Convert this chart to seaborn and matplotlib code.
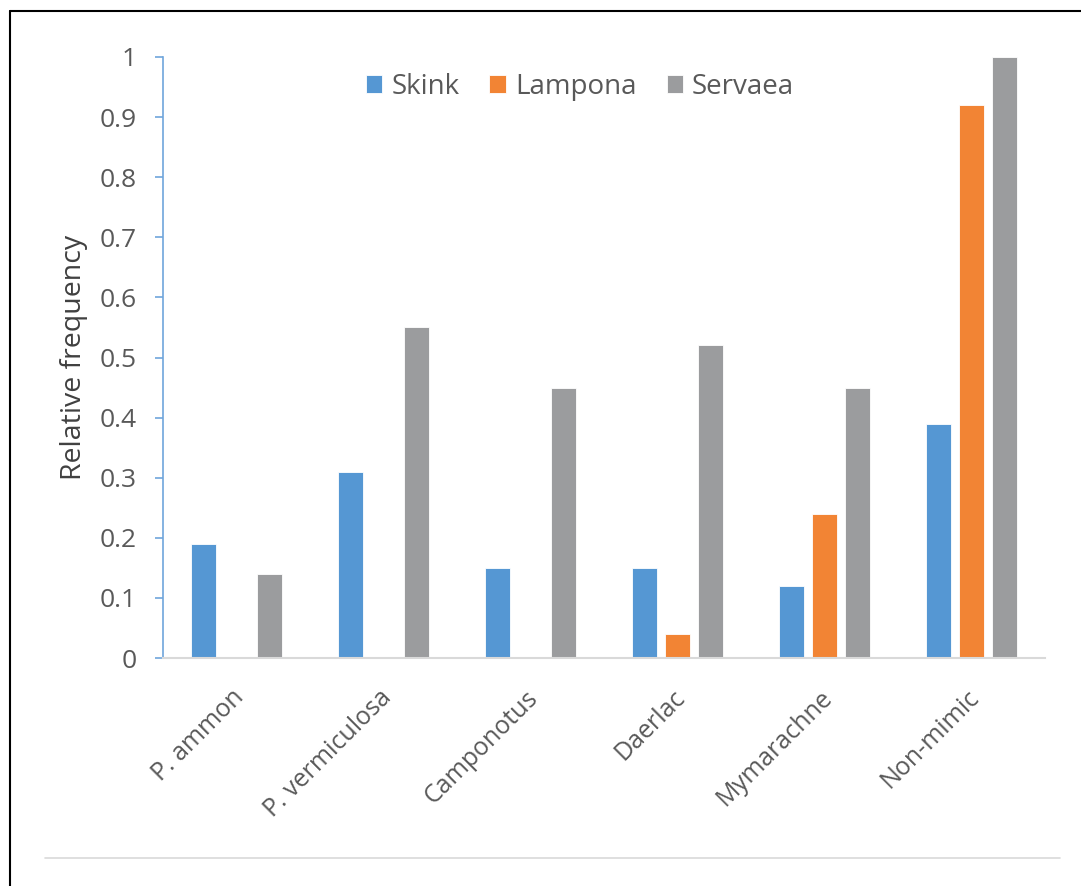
import matplotlib
matplotlib.use("Agg")
import matplotlib.pyplot as plt
from matplotlib.lines import Line2D
from matplotlib.transforms import ScaledTranslation
import seaborn as sns
import pandas as pd

categories = ["P. ammon", "P. vermiculosa", "Camponotus", "Daerlac", "Mymarachne", "Non-mimic"]
series = ["Skink", "Lampona", "Servaea"]
skink = [0.19, 0.31, 0.15, 0.15, 0.12, 0.39]
lampona = [0.0, 0.0, 0.0, 0.04, 0.24, 0.92]
servaea = [0.14, 0.55, 0.45, 0.52, 0.45, 1.0]
y_ticks = [0, 0.1, 0.2, 0.3, 0.4, 0.5, 0.6, 0.7, 0.8, 0.9, 1]
y_tick_labels = ["0", "0.1", "0.2", "0.3", "0.4", "0.5", "0.6", "0.7", "0.8", "0.9", "1"]

colors = {"Skink": "#5597D3", "Lampona": "#F28434", "Servaea": "#9B9C9E"}

df = pd.DataFrame({
    "category": categories * 3,
    "series": [s for s in series for _ in categories],
    "value": skink + lampona + servaea,
})

sns.set_theme(style="white")
plt.rcParams["font.family"] = ["Open Sans", "DejaVu Sans"]

fig = plt.figure(figsize=(10.81, 8.86), dpi=100)
ax = fig.add_axes([163 / 1081, 1 - 658 / 886, (1045 - 163) / 1081, (658 - 57) / 886])

sns.barplot(data=df, x="category", y="value", hue="series", order=categories,
            hue_order=series, palette=colors, width=0.673, gap=0.243,
            edgecolor="white", linewidth=0.6, saturation=1, ax=ax, legend=True)

ax.set_xlim(-0.5, len(categories) - 0.5)
ax.set_ylim(0, 1)
ax.set_yticks(y_ticks)
ax.set_yticklabels(y_tick_labels)
ax.set_xlabel("")
ax.set_ylabel("Relative frequency", fontsize=20.5, color="#404040", labelpad=8)

for side in ["top", "right"]:
    ax.spines[side].set_visible(False)
ax.spines["left"].set_color("#6FA6DC")
ax.spines["left"].set_linewidth(1.2)
ax.spines["bottom"].set_color("#D9D9D9")
ax.spines["bottom"].set_linewidth(1.5)

ax.tick_params(axis="y", which="major", left=True, length=6, width=1.2,
               color="#6FA6DC", labelsize=19, labelcolor="#595959", pad=13)
ax.tick_params(axis="x", which="major", bottom=False, labelsize=18,
               labelcolor="#595959", pad=20)
shift = ScaledTranslation(4 / 100, 0, fig.dpi_scale_trans)
for lbl in ax.get_xticklabels():
    lbl.set_rotation(45)
    lbl.set_ha("right")
    lbl.set_va("center")
    lbl.set_rotation_mode("anchor")
    lbl.set_transform(lbl.get_transform() + shift)

handles, labels = ax.get_legend_handles_labels()
ax.legend(handles, labels, loc="center", bbox_to_anchor=(580 / 1081, 1 - 87 / 886),
          bbox_transform=fig.transFigure, ncol=3, frameon=False, fontsize=20,
          handlelength=0.6, handleheight=0.6, handletextpad=0.32,
          columnspacing=1.08, labelcolor="#595959")

# outer frame and bottom rule
fig.add_artist(Line2D([10 / 1081, 1.0], [1 - 11 / 886, 1 - 11 / 886],
                      transform=fig.transFigure, color="black", linewidth=1.5))
fig.add_artist(Line2D([10 / 1081, 10 / 1081], [0.0, 1 - 11 / 886],
                      transform=fig.transFigure, color="black", linewidth=1.5))
fig.add_artist(Line2D([45 / 1081, 1060 / 1081], [1 - 858 / 886, 1 - 858 / 886],
                      transform=fig.transFigure, color="#D9D9D9", linewidth=1.2))

fig.savefig("out.png", dpi=100)
